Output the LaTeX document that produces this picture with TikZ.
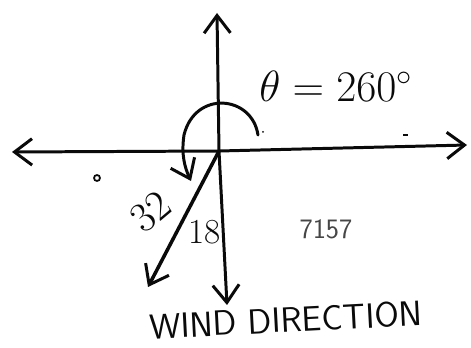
\documentclass[tikz,border=0pt]{standalone}
\usepackage{amsmath, amssymb}
\usepackage{xcolor}
\usepackage{tikz}
\usetikzlibrary{arrows.meta, positioning}
\definecolor{InkBlack}{RGB}{10, 10, 10}
\definecolor{FaintInk}{RGB}{70, 70, 70}

\begin{document}
\begin{tikzpicture}[
    x=0.02cm, y=-0.02cm,
    axis/.style={InkBlack, line width=1.7pt, line cap=round, line join=round},
    vec/.style={InkBlack, line width=2pt, line cap=round, line join=round},
    tip/.style={arrows={-{Straight Barb[length=10pt, width=15pt, line width=1.7pt]}}},
    bothtip/.style={arrows={{Straight Barb[length=10pt, width=15pt, line width=1.7pt]}-{Straight Barb[length=10pt, width=15pt, line width=1.7pt]}}},
    lbl/.style={text=InkBlack, inner sep=0pt, font=\fontsize{20}{20}\selectfont},
    faint/.style={text=FaintInk, inner sep=1pt, font=\fontsize{16}{16}\selectfont\sffamily}
]
    \useasboundingbox (0,0) rectangle (471,348);

    % Coordinates
    \coordinate (origin) at (219,151);
    \coordinate (north) at (217,13);
    \coordinate (south) at (227,305);
    \coordinate (west) at (12,152);
    \coordinate (east) at (467,145);
    \coordinate (wind) at (148,287);
    \coordinate (arcstart) at (258,135);
    \coordinate (arcend) at (191,181);

    % Axes
    \draw[axis, bothtip] (west) -- (origin) -- (east);
    \draw[axis, bothtip] (north) -- (origin) -- (south);

    % Vector
    \draw[vec, tip] (origin) -- (wind);

    % Angle arc
    \draw[axis, tip] (arcstart) .. controls (252,95) and (195,90) .. (184,135)
        .. controls (181,155) and (185,168) .. (arcend);

    % Labels
    \node[lbl, font=\fontsize{26}{26}\selectfont] (theta) at (336,86) {$\theta = 260^{\circ}$};
    \node[lbl, rotate=40, font=\fontsize{24}{24}\selectfont] (speed) at (151,212) {32};
    \node[lbl] (angle) at (205,232) {18};
    \node[faint] (note) at (326,229) {7157};
    \node[lbl, rotate=3, font=\fontsize{20}{20}\selectfont\sffamily] (direction) at (286,320) {WIND DIRECTION};

    % Stray marks
    \draw[InkBlack, line width=1pt] (97,178) circle (3);
    \fill[InkBlack] (263,132) circle (1);
    \draw[InkBlack, line width=1pt] (403,135) -- (408,135);
\end{tikzpicture}
\end{document}
